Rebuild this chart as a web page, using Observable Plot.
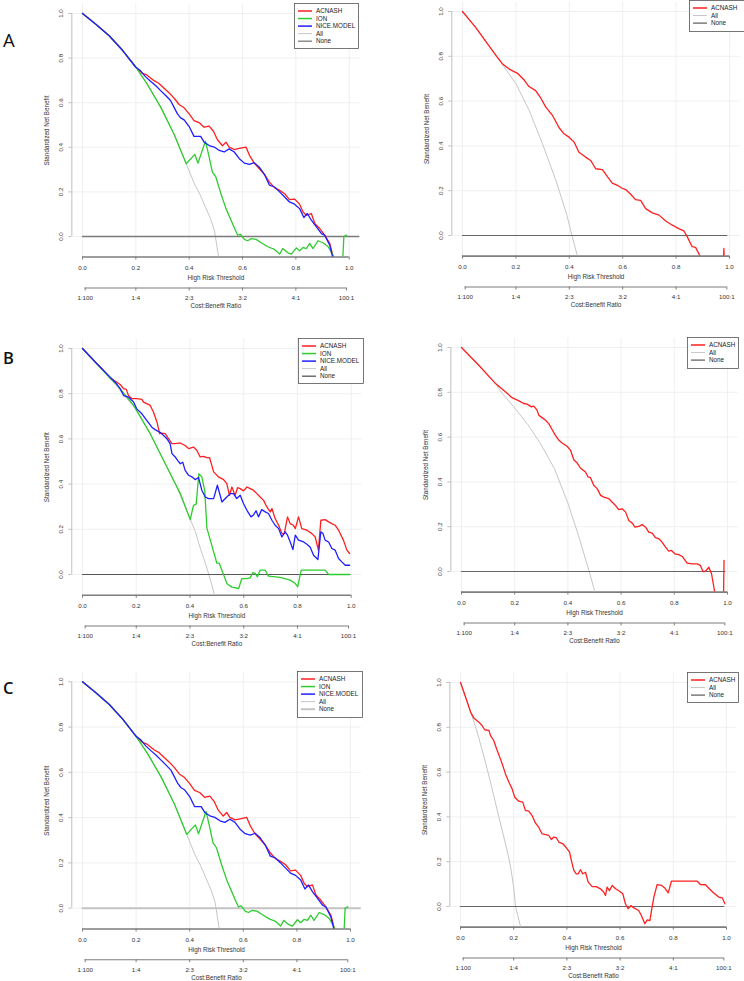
<!DOCTYPE html>
<html><head><meta charset="utf-8">
<script src="https://cdn.jsdelivr.net/npm/d3@7"></script>
<script src="https://cdn.jsdelivr.net/npm/@observablehq/plot@0.6"></script>
<style>
body{margin:0;background:#fff;overflow:hidden}
#root{position:relative;width:744px;height:981px;background:#fff}
.panel{position:absolute}
#overlay{position:absolute;left:0;top:0;pointer-events:none}
</style></head><body><div id="root"></div>
<script>
// ---------- tick labels ----------
const xTicks = [0, 0.2, 0.4, 0.6, 0.8, 1.0];
const yTicks = [0, 0.2, 0.4, 0.6, 0.8, 1.0];
const cbTicks = [0.01, 0.2, 0.4, 0.6, 0.8, 0.99];
const cbLabels = ["1:100", "1:4", "2:3", "3:2", "4:1", "100:1"];

// ---------- Panel A (left) / C (left) : [threshold, standardized net benefit] ----------
const acnashA = [[0,1],[0.05,0.952],[0.1,0.9],[0.15,0.835],[0.2,0.759],[0.224,0.732],[0.239,0.726],[0.255,0.711],[0.268,0.699],[0.286,0.687],[0.305,0.666],[0.324,0.645],[0.343,0.621],[0.362,0.592],[0.381,0.577],[0.4,0.55],[0.418,0.52],[0.437,0.511],[0.456,0.49],[0.475,0.495],[0.491,0.472],[0.506,0.434],[0.525,0.407],[0.538,0.423],[0.55,0.401],[0.569,0.39],[0.588,0.395],[0.613,0.401],[0.626,0.364],[0.644,0.329],[0.663,0.304],[0.682,0.279],[0.701,0.244],[0.72,0.219],[0.739,0.207],[0.758,0.192],[0.776,0.165],[0.795,0.168],[0.814,0.145],[0.827,0.11],[0.839,0.095],[0.858,0.103],[0.871,0.058],[0.889,0.036],[0.908,0.006],[0.927,-0.031],[0.94,-0.091],[0.96,-0.2]];
const ionA = [[0,1],[0.05,0.952],[0.1,0.9],[0.15,0.835],[0.2,0.759],[0.242,0.684],[0.293,0.58],[0.343,0.46],[0.389,0.326],[0.421,0.368],[0.433,0.329],[0.461,0.428],[0.475,0.356],[0.487,0.289],[0.5,0.267],[0.519,0.192],[0.538,0.125],[0.557,0.073],[0.572,0.031],[0.582,0.006],[0.592,0.01],[0.607,-0.013],[0.619,-0.019],[0.632,-0.01],[0.651,-0.013],[0.67,-0.028],[0.695,-0.046],[0.72,-0.058],[0.739,-0.079],[0.751,-0.054],[0.77,-0.073],[0.783,-0.079],[0.802,-0.051],[0.814,-0.064],[0.827,-0.049],[0.839,-0.054],[0.852,-0.031],[0.864,-0.054],[0.883,-0.019],[0.902,-0.028],[0.921,-0.046],[0.936,-0.076],[0.946,-0.106],[0.96,-0.2],[0.97,-0.25],[0.98,0.0],[0.99,0.006]];
const niceA = [[0,1],[0.05,0.952],[0.1,0.9],[0.15,0.835],[0.2,0.759],[0.217,0.744],[0.236,0.717],[0.255,0.696],[0.274,0.677],[0.293,0.654],[0.312,0.632],[0.33,0.61],[0.343,0.58],[0.356,0.55],[0.368,0.532],[0.381,0.523],[0.4,0.493],[0.418,0.449],[0.443,0.449],[0.456,0.423],[0.475,0.408],[0.494,0.401],[0.513,0.386],[0.531,0.379],[0.55,0.393],[0.569,0.379],[0.588,0.349],[0.607,0.329],[0.626,0.323],[0.644,0.331],[0.663,0.311],[0.682,0.279],[0.701,0.23],[0.72,0.222],[0.739,0.2],[0.758,0.177],[0.776,0.155],[0.795,0.145],[0.814,0.125],[0.83,0.085],[0.843,0.103],[0.858,0.073],[0.877,0.043],[0.896,0.013],[0.908,0.006],[0.927,-0.039],[0.937,-0.088],[0.95,-0.2]];
const allA = [[0,1],[0.05,0.952],[0.1,0.9],[0.15,0.835],[0.2,0.76],[0.25,0.672],[0.3,0.567],[0.35,0.44],[0.389,0.326],[0.42,0.235],[0.44,0.19],[0.46,0.135],[0.48,0.08],[0.495,0.025],[0.51,-0.09],[0.53,-0.25]];
const noneA = [[0,0],[1.04,0]];

// ---------- Panel A (right) ----------
const acnashAR = [[0,1],[0.05,0.928],[0.1,0.845],[0.13,0.796],[0.15,0.766],[0.175,0.743],[0.206,0.724],[0.231,0.694],[0.249,0.665],[0.274,0.647],[0.293,0.614],[0.312,0.573],[0.337,0.536],[0.362,0.481],[0.38,0.454],[0.399,0.439],[0.418,0.417],[0.436,0.372],[0.461,0.35],[0.48,0.335],[0.499,0.298],[0.524,0.294],[0.542,0.264],[0.561,0.234],[0.58,0.224],[0.596,0.212],[0.611,0.205],[0.63,0.184],[0.648,0.16],[0.667,0.157],[0.686,0.12],[0.711,0.101],[0.736,0.091],[0.761,0.065],[0.786,0.046],[0.81,0.031],[0.829,0.021],[0.842,-0.006],[0.86,-0.05],[0.873,-0.053],[0.891,-0.095],[0.91,-0.2],[0.975,-0.2],[0.979,-0.058],[0.983,-0.2]];
const allAR = [[0,1],[0.05,0.928],[0.1,0.845],[0.13,0.796],[0.15,0.762],[0.2,0.678],[0.25,0.558],[0.3,0.408],[0.35,0.245],[0.39,0.095],[0.41,0.0],[0.43,-0.09],[0.45,-0.18]];
const noneAR = [[0,0],[0.99,0]];

// ---------- Panel B (left) ----------
const acnashB = [[0,1],[0.05,0.937],[0.066,0.918],[0.103,0.87],[0.128,0.851],[0.14,0.841],[0.153,0.822],[0.163,0.819],[0.171,0.792],[0.184,0.778],[0.202,0.778],[0.221,0.775],[0.227,0.763],[0.239,0.756],[0.252,0.748],[0.264,0.719],[0.277,0.675],[0.287,0.623],[0.295,0.626],[0.308,0.623],[0.32,0.601],[0.333,0.579],[0.345,0.579],[0.364,0.582],[0.382,0.571],[0.395,0.557],[0.413,0.564],[0.426,0.549],[0.438,0.52],[0.45,0.523],[0.463,0.517],[0.473,0.517],[0.488,0.454],[0.506,0.432],[0.525,0.42],[0.537,0.402],[0.547,0.35],[0.556,0.387],[0.568,0.35],[0.577,0.384],[0.587,0.38],[0.599,0.37],[0.612,0.387],[0.624,0.38],[0.636,0.373],[0.649,0.358],[0.661,0.343],[0.674,0.328],[0.686,0.299],[0.699,0.277],[0.705,0.292],[0.717,0.247],[0.73,0.218],[0.742,0.181],[0.751,0.181],[0.763,0.255],[0.773,0.225],[0.785,0.218],[0.792,0.203],[0.804,0.255],[0.816,0.203],[0.835,0.196],[0.854,0.181],[0.866,0.166],[0.878,0.108],[0.887,0.24],[0.903,0.243],[0.916,0.233],[0.928,0.225],[0.94,0.218],[0.953,0.196],[0.971,0.152],[0.984,0.108],[0.994,0.093]];
const ionB = [[0,1],[0.05,0.937],[0.1,0.872],[0.128,0.84],[0.19,0.748],[0.252,0.623],[0.314,0.476],[0.364,0.358],[0.401,0.243],[0.413,0.306],[0.423,0.311],[0.433,0.446],[0.444,0.432],[0.455,0.37],[0.463,0.205],[0.481,0.13],[0.5,0.05],[0.509,0.05],[0.519,0.018],[0.538,-0.041],[0.556,-0.056],[0.581,-0.062],[0.593,-0.018],[0.612,-0.018],[0.624,-0.015],[0.634,0.009],[0.643,0.004],[0.651,-0.01],[0.661,0.019],[0.68,0.019],[0.692,-0.007],[0.736,-0.013],[0.773,-0.025],[0.792,-0.04],[0.801,-0.054],[0.814,0.019],[0.903,0.019],[0.916,0],[0.994,0]];
const niceB = [[0,1],[0.05,0.937],[0.103,0.873],[0.122,0.851],[0.14,0.822],[0.153,0.792],[0.171,0.785],[0.19,0.763],[0.202,0.733],[0.221,0.711],[0.239,0.682],[0.258,0.652],[0.27,0.641],[0.287,0.63],[0.301,0.616],[0.314,0.601],[0.326,0.579],[0.333,0.535],[0.345,0.52],[0.354,0.505],[0.364,0.49],[0.373,0.497],[0.382,0.461],[0.395,0.439],[0.407,0.432],[0.419,0.42],[0.432,0.429],[0.444,0.373],[0.457,0.343],[0.469,0.336],[0.488,0.336],[0.502,0.395],[0.519,0.321],[0.537,0.343],[0.55,0.358],[0.562,0.358],[0.574,0.336],[0.587,0.351],[0.599,0.314],[0.612,0.284],[0.627,0.255],[0.636,0.263],[0.646,0.282],[0.655,0.255],[0.667,0.287],[0.68,0.277],[0.692,0.27],[0.705,0.24],[0.717,0.218],[0.73,0.203],[0.742,0.166],[0.754,0.189],[0.763,0.174],[0.773,0.144],[0.783,0.11],[0.792,0.174],[0.804,0.152],[0.823,0.144],[0.835,0.134],[0.847,0.122],[0.86,0.085],[0.876,0.066],[0.887,0.189],[0.895,0.181],[0.903,0.152],[0.916,0.144],[0.928,0.115],[0.94,0.108],[0.953,0.071],[0.965,0.056],[0.978,0.041],[0.994,0.041]];
const allB = [[0,1],[0.05,0.937],[0.1,0.872],[0.15,0.8],[0.2,0.73],[0.25,0.627],[0.3,0.51],[0.35,0.39],[0.401,0.245],[0.42,0.19],[0.44,0.11],[0.46,0.04],[0.48,-0.04],[0.5,-0.13]];
const noneB = [[0,0],[0.996,0]];

// ---------- Panel B (right) ----------
const acnashBR = [[0,1],[0.065,0.921],[0.128,0.839],[0.165,0.802],[0.19,0.776],[0.216,0.762],[0.234,0.75],[0.247,0.747],[0.263,0.735],[0.272,0.738],[0.284,0.72],[0.291,0.697],[0.303,0.687],[0.316,0.675],[0.328,0.66],[0.341,0.633],[0.353,0.608],[0.366,0.586],[0.378,0.574],[0.397,0.559],[0.41,0.541],[0.422,0.499],[0.435,0.484],[0.447,0.462],[0.466,0.444],[0.476,0.422],[0.485,0.419],[0.497,0.385],[0.51,0.37],[0.523,0.34],[0.535,0.332],[0.554,0.325],[0.566,0.31],[0.579,0.295],[0.591,0.276],[0.604,0.28],[0.617,0.265],[0.629,0.228],[0.642,0.216],[0.652,0.198],[0.667,0.201],[0.679,0.21],[0.692,0.198],[0.704,0.176],[0.717,0.171],[0.729,0.151],[0.742,0.146],[0.754,0.131],[0.767,0.109],[0.779,0.091],[0.789,0.094],[0.802,0.079],[0.817,0.075],[0.83,0.067],[0.848,0.037],[0.867,0.034],[0.886,0.034],[0.898,0.027],[0.908,0.0],[0.917,0.001],[0.93,0.019],[0.94,-0.01],[0.952,-0.092],[0.96,-0.2],[0.984,-0.2],[0.987,0.05]];
const allBR = [[0,1],[0.065,0.921],[0.128,0.839],[0.15,0.8],[0.2,0.73],[0.25,0.655],[0.3,0.565],[0.35,0.458],[0.4,0.305],[0.44,0.16],[0.46,0.08],[0.48,0.0],[0.5,-0.085],[0.52,-0.17]];
const noneBR = [[0,0],[0.99,0]];

// ---------- Panel C (right) ----------
const acnashCR = [[0,1],[0.019,0.935],[0.038,0.868],[0.05,0.842],[0.069,0.823],[0.081,0.808],[0.091,0.789],[0.107,0.786],[0.113,0.763],[0.125,0.741],[0.138,0.696],[0.15,0.659],[0.159,0.629],[0.169,0.592],[0.182,0.555],[0.194,0.525],[0.204,0.488],[0.219,0.47],[0.234,0.466],[0.244,0.429],[0.257,0.426],[0.269,0.406],[0.282,0.372],[0.294,0.354],[0.307,0.324],[0.32,0.321],[0.332,0.317],[0.342,0.299],[0.351,0.31],[0.36,0.307],[0.37,0.287],[0.385,0.28],[0.401,0.257],[0.41,0.243],[0.417,0.205],[0.426,0.161],[0.435,0.146],[0.442,0.146],[0.451,0.164],[0.46,0.146],[0.47,0.153],[0.48,0.109],[0.495,0.089],[0.51,0.089],[0.526,0.079],[0.539,0.064],[0.545,0.049],[0.551,0.086],[0.56,0.071],[0.57,0.094],[0.583,0.079],[0.598,0.068],[0.61,0.057],[0.62,0.012],[0.63,-0.01],[0.64,0.004],[0.652,-0.006],[0.67,-0.018],[0.68,-0.04],[0.693,-0.077],[0.702,-0.06],[0.712,-0.063],[0.718,-0.018],[0.727,0.042],[0.739,0.098],[0.756,0.094],[0.768,0.083],[0.781,0.061],[0.793,0.113],[0.833,0.113],[0.89,0.113],[0.902,0.098],[0.921,0.097],[0.94,0.074],[0.952,0.06],[0.971,0.042],[0.984,0.039],[0.994,0.012]];
const allCR = [[0,1],[0.019,0.935],[0.038,0.868],[0.06,0.79],[0.08,0.705],[0.1,0.615],[0.12,0.52],[0.14,0.42],[0.16,0.325],[0.18,0.225],[0.19,0.165],[0.2,0.085],[0.207,0.0],[0.226,-0.092],[0.24,-0.16]];
const noneCR = [[0,0],[0.99,0]];

// ---------- styles ----------
const colors = {"ACNASH": "#ff1f1f", "ION": "#2ecc2e", "NICE.MODEL": "#1f1fff"};
const allColor = "#c6c6c6";
const FONT = '"Liberation Sans", Arial, Helvetica, sans-serif';
const X_LO = -0.04, X_HI = 1.04, Y_LO = -0.092, Y_HI = 1.042;

const panels = [
  {letter: "A", left: 0, x0: 82, x1: 348.7, y1: 13, y0: 236,
   models: [["ACNASH", acnashA], ["ION", ionA], ["NICE.MODEL", niceA]], all: allA, none: noneA,
   noneColor: "#7a7a7a", noneWidth: 1.3, legend: {x: 294, y: 3, w: 64, h: 45}},
  {left: 372, x0: 462, x1: 729, y1: 11, y0: 235,
   models: [["ACNASH", acnashAR]], all: allAR, none: noneAR,
   noneColor: "#666", noneWidth: 1.2, legend: {x: 689, y: 0, w: 58, h: 31}},
  {letter: "B", left: 0, x0: 82, x1: 350.7, y1: 348, y0: 574,
   models: [["ACNASH", acnashB], ["ION", ionB], ["NICE.MODEL", niceB]], all: allB, none: noneB,
   noneColor: "#555", noneWidth: 1.2, legend: {x: 298, y: 338, w: 65, h: 45}},
  {left: 372, x0: 461, x1: 727, y1: 347, y0: 571,
   models: [["ACNASH", acnashBR]], all: allBR, none: noneBR,
   noneColor: "#666", noneWidth: 1.2, legend: {x: 687, y: 337, w: 51, h: 31}},
  {letter: "C", left: 0, x0: 82, x1: 350, y1: 681.3, y0: 907.7,
   models: [["ACNASH", acnashA], ["ION", ionA], ["NICE.MODEL", niceA]], all: allA, none: noneA,
   noneColor: "#c4c4c4", noneWidth: 2, legend: {x: 297, y: 671, w: 65, h: 46}},
  {left: 372, x0: 460, x1: 726, y1: 682, y0: 906,
   models: [["ACNASH", acnashCR]], all: allCR, none: noneCR,
   noneColor: "#666", noneWidth: 1.2, legend: {x: 687, y: 672, w: 51, h: 30}}
];

const root = document.getElementById("root");
const W = 372;

for (const p of panels) {
  const top = Math.round(p.y1 - 12);
  const H = Math.round(p.y0 + 78 - top);
  const pxX = p.x1 - p.x0, pxY = p.y0 - p.y1;
  const xv = off => off / pxX;     // pixel offset from x = 0 -> data units
  const yv = off => -off / pxY;    // pixel offset below y = 0 -> data units
  const marginLeft = p.x0 - p.left + X_LO * pxX;
  const marginRight = W - (p.x1 - p.left + (X_HI - 1) * pxX);
  const marginTop = p.y1 - top - (Y_HI - 1) * pxY;
  const marginBottom = H - (p.y0 - top - Y_LO * pxY);
  const axisGray = "#7d7d7d";
  const cbY = yv(51.5);

  const marks = [
    Plot.gridX(xTicks, {stroke: "#ececec", strokeOpacity: 1, strokeWidth: 0.8}),
    Plot.gridY(yTicks, {stroke: "#ececec", strokeOpacity: 1, strokeWidth: 0.8}),
    // x axis
    Plot.ruleY([Y_LO], {x1: 0, x2: 1, stroke: axisGray, strokeWidth: 1.6}),
    Plot.axisX({ticks: xTicks, tickSize: 3, tickPadding: 5.5, tickFormat: d => d.toFixed(1), label: null, stroke: axisGray, fill: "#333"}),
    Plot.text(["High Risk Threshold"], {x: 0.5, y: yv(41.3), text: d => d, lineAnchor: "middle", fill: "#333", fontSize: 6.3}),
    // y axis (vertical tick labels, as in R)
    Plot.ruleX([X_LO], {y1: 0, y2: 1, stroke: "#b0b0b0", strokeWidth: 0.8}),
    Plot.ruleY(yTicks, {y: d => d, x1: X_LO, x2: X_LO + xv(-3), stroke: "#b0b0b0", strokeWidth: 0.8}),
    Plot.text(yTicks, {x: xv(-21), y: d => d, text: d => d.toFixed(1), rotate: -90, textAnchor: "middle", lineAnchor: "middle", fill: "#333", fontSize: 6.2}),
    Plot.text(["Standardized Net Benefit"], {x: xv(-36), y: (Y_LO + Y_HI) / 2, rotate: -90, text: d => d, textAnchor: "middle", lineAnchor: "middle", fill: "#333", fontSize: 6.3}),
    // cost:benefit axis
    Plot.ruleY([cbY], {x1: cbTicks[0], x2: cbTicks[cbTicks.length - 1], stroke: axisGray, strokeWidth: 1.1}),
    Plot.ruleX(cbTicks, {x: d => d, y1: cbY, y2: yv(54.5), stroke: axisGray, strokeWidth: 1}),
    Plot.text(cbLabels, {x: (d, i) => cbTicks[i], y: yv(62), text: d => d, lineAnchor: "middle", fill: "#333", fontSize: 6.2}),
    Plot.text(["Cost:Benefit Ratio"], {x: 0.5, y: yv(69.5), text: d => d, lineAnchor: "middle", fill: "#333", fontSize: 6.3}),
    // reference curves
    Plot.line(p.all, {x: d => d[0], y: d => d[1], stroke: allColor, strokeWidth: 1, clip: true}),
    Plot.line(p.none, {x: d => d[0], y: d => d[1], stroke: p.noneColor, strokeWidth: p.noneWidth, clip: true}),
    // model curves
    ...p.models.map(([name, data]) => Plot.line(data, {x: d => d[0], y: d => d[1], stroke: colors[name], strokeWidth: 1.3, clip: true}))
  ];

  const svg = Plot.plot({
    width: W, height: H,
    marginLeft, marginRight, marginTop, marginBottom,
    x: {domain: [X_LO, X_HI]},
    y: {domain: [Y_LO, Y_HI], axis: null},
    style: {fontFamily: FONT, fontSize: "6.2px", color: "#333", background: "transparent", overflow: "visible"},
    marks
  });
  const div = document.createElement("div");
  div.className = "panel";
  div.style.left = p.left + "px";
  div.style.top = top + "px";
  div.appendChild(svg);
  root.appendChild(div);
}

// ---------- overlay: legends and panel letters ----------
const ov = d3.select(root).append("svg").attr("id", "overlay").attr("width", 744).attr("height", 981);
for (const p of panels) {
  const L = p.legend;
  const g = ov.append("g");
  g.append("rect").attr("x", L.x + 0.5).attr("y", L.y + 0.5).attr("width", L.w).attr("height", L.h)
    .attr("fill", "#fff").attr("stroke", "#555").attr("stroke-width", 0.8);
  const items = [...p.models.map(([name]) => ({name, color: colors[name], w: 1.5})),
                 {name: "All", color: allColor, w: 1},
                 {name: "None", color: p.noneColor, w: Math.max(1.3, p.noneWidth)}];
  items.forEach((it, i) => {
    const cy = L.y + 8 + i * 7.55;
    g.append("line").attr("x1", L.x + 4).attr("x2", L.x + 18).attr("y1", cy).attr("y2", cy)
      .attr("stroke", it.color).attr("stroke-width", it.w);
    g.append("text").attr("x", L.x + 22).attr("y", cy).attr("dy", "0.35em")
      .attr("font-family", FONT).attr("font-size", 6.3).attr("fill", "#222").text(it.name);
  });
}
const letters = [{t: "A", x: 3, y: 47, s: 18.5, w: 400}, {t: "B", x: 3, y: 363.5, s: 16.5, w: 600}, {t: "C", x: 3, y: 693.5, s: 16.5, w: 600}];
for (const l of letters) {
  ov.append("text").attr("x", l.x).attr("y", l.y).attr("font-family", '"Open Sans", sans-serif')
    .attr("font-size", l.s).attr("font-weight", l.w).attr("fill", "#111").text(l.t);
}
</script>
</body></html>
